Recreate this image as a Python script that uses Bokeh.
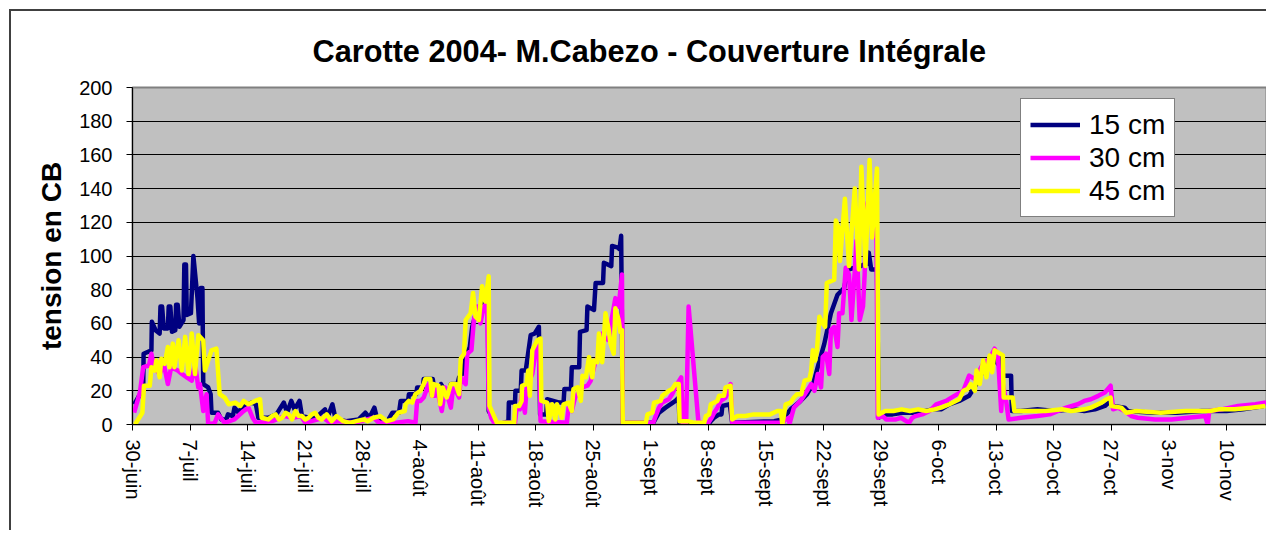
from bokeh.plotting import figure
from bokeh.models import Range1d, FixedTicker, Legend, LegendItem, ColumnDataSource
from bokeh.embed import file_html
from bokeh.resources import INLINE

# ---------------- data (days after 30 June 2004, tension in CB) ----------------
tick_days = [0, 7, 14, 21, 28, 35, 42, 49, 56, 63, 70, 77, 84, 91, 98, 105, 112, 119, 126, 133]
tick_labels = ["30-juin", "7-juil", "14-juil", "21-juil", "28-juil", "4-août", "11-août",
               "18-août", "25-août", "1-sept", "8-sept", "15-sept", "22-sept", "29-sept",
               "6-oct", "13-oct", "20-oct", "27-oct", "3-nov", "10-nov"]
y_ticks = [0, 20, 40, 60, 80, 100, 120, 140, 160, 180, 200]

series_names = ["15 cm", "30 cm", "45 cm"]

s15 = [(0.2,12),(0.8,17),(1.3,20),(1.35,42),(2.3,44),(2.35,61),(2.8,56),(3.3,54),(3.4,70),(3.6,70),
       (3.8,57),(4.3,57),(4.4,70),(4.6,70),(4.8,55),(5.2,56),(5.3,71),(5.5,71),(5.7,58),(6.2,62),
       (6.3,95),(6.5,95),(6.6,65),(7.1,66),(7.4,100),(7.9,75),(8.1,60),(8.3,81),(8.5,81),(8.6,24),
       (9.2,22),(9.5,18),(9.6,7),(10.4,7),(10.8,3),(11.4,3),(11.6,6),(12.2,5),(12.4,10),(12.9,7),
       (13.4,11),(14.0,12),(14.5,13),(15.0,12),(15.3,4),(16.5,4),(17.5,6),(18.0,10),(18.4,13),(18.8,7),
       (19.3,14),(19.7,9),(20.3,14),(20.6,5),(21.5,4),(22.5,5),(23.4,9),(23.7,4),(24.3,12),(24.7,3),
       (26.0,2),(27.5,3),(28.3,7),(28.8,4),(29.4,10),(29.8,2),(31.0,2),(31.6,7),(32.4,7),(32.6,14),
       (33.5,14),(33.6,18),(34.5,18),(34.6,22),(35.3,22),(35.4,27),(36.5,27),(36.7,20),(37.3,18),(37.5,24),
       (38.0,20),(38.5,20),(38.7,24),(39.5,24),(39.7,28),(40.1,30),(40.5,40),(41.0,46),(41.3,58),(41.7,65),
       (42.2,68),(42.4,72),(42.8,70),(43.2,72),(43.3,8),(44.3,0),(45.2,1),(45.7,2),(45.75,13),(46.5,13),
       (46.55,20),(47.2,20),(47.3,32),(47.8,32),(48.4,53),(48.9,54),(49.4,58),(49.55,6),(50.3,6),(50.4,15),
       (51.9,13),(52.4,13),(52.5,21),(53.3,21),(53.4,34),(54.3,34),(54.4,55),(55.2,56),(55.3,70),(56.1,68),
       (56.3,84),(57.2,84),(57.3,96),(58.2,94),(58.3,106),(59.0,105),(59.2,104),(59.4,112),(59.6,1),(63.3,1),
       (64.0,7),(64.8,10),(66.0,14),(66.4,16),(66.5,0),(70.0,0),(70.3,2),(70.7,4),(71.3,6),(71.6,6),
       (71.7,11),(72.6,12),(72.9,1),(78.0,2),(79.0,3),(79.5,6),(80.0,9),(81.0,13),(82.0,18),(82.8,25),
       (83.3,34),(84.1,48),(84.9,66),(85.7,77),(86.5,81),(87.0,92),(88.5,94),(89.4,96),(89.5,102),(89.8,92),
       (90.5,92),(90.7,4),(91.2,6),(92.4,6),(93.6,7),(95.2,7),(97.3,9),(98.3,9),(99.3,12),(100.5,14),
       (101.7,17),(102.6,24),(103.4,32),(104.6,40),(105.2,36),(105.6,40),(105.7,29),(106.8,29),(106.9,8),(108.0,8),
       (110.0,9),(112.0,8),(114.3,9),(115.7,8),(117.0,9),(118.2,11),(118.9,14),(119.2,11),(120.6,10),(121.0,8),
       (124.0,7),(127.0,7),(130.0,8),(131.2,8),(133.0,8),(135.0,9),(137.5,11)]

s30 = [(0.2,7),(0.9,19),(1.3,34),(2.0,35),(2.3,42),(2.6,34),(3.3,30),(3.8,36),(4.3,24),(4.7,34),
       (5.5,32),(6.0,30),(6.6,28),(7.2,26),(7.6,36),(8.0,22),(8.2,24),(8.6,8),(9.0,18),(9.2,0),
       (10.0,1),(10.4,6),(11.2,1),(12.4,3),(13.5,8),(14.1,10),(14.6,4),(15.0,1),(17.0,2),(18.5,5),
       (19.5,4),(20.5,5),(21.0,1),(23.2,4),(24.0,1),(25.0,2),(27.0,1),(29.3,4),(30.0,1),(32.0,1),
       (33.5,2),(34.4,1),(34.6,14),(35.0,14),(35.4,16),(36.0,24),(36.4,17),(36.8,17),(37.0,22),(37.6,8),
       (38.0,22),(38.7,10),(39.0,23),(39.7,16),(39.9,28),(40.5,24),(40.7,42),(41.2,44),(41.5,62),(41.9,70),
       (42.3,60),(42.7,70),(43.1,72),(43.3,10),(43.6,4),(44.1,0),(45.3,1),(46.5,1),(46.7,10),(47.1,9),
       (47.3,18),(47.7,7),(47.9,22),(48.6,30),(49.0,43),(49.4,47),(49.6,2),(52.8,1),(53.0,10),(53.4,8),
       (53.8,16),(54.7,22),(55.3,23),(55.7,26),(56.3,38),(56.9,42),(57.1,54),(57.5,51),(57.9,50),(58.3,64),
       (58.7,75),(59.1,70),(59.5,89),(59.6,1),(63.3,1),(63.6,5),(64.0,10),(64.4,13),(65.2,15),(65.6,18),
       (66.2,24),(66.7,28),(66.9,0),(67.3,1),(67.6,70),(68.8,1),(70.0,1),(70.4,4),(70.7,7),(71.1,10),
       (71.5,14),(72.1,16),(72.7,24),(72.9,1),(79.0,1),(79.4,3),(79.8,4),(79.85,0),(80.4,10),(81.2,14),
       (82.0,20),(82.5,24),(82.9,20),(83.3,30),(83.7,22),(83.9,40),(84.3,42),(84.7,30),(84.9,56),(85.3,58),
       (85.7,46),(85.9,66),(86.3,66),(86.7,93),(87.1,89),(87.4,62),(87.8,91),(88.0,109),(88.4,62),(88.8,70),
       (89.0,89),(89.2,129),(89.6,135),(89.8,131),(90.4,133),(90.6,4),(91.2,5),(91.6,3),(92.8,3),(93.4,4),
       (94.4,1),(94.8,4),(95.2,5),(96.0,6),(96.9,8),(97.7,12),(98.9,14),(99.9,17),(101.0,20),(101.7,29),
       (102.4,27),(103.4,36),(104.2,39),(104.8,45),(105.2,41),(105.6,8),(105.8,24),(106.2,14),(106.5,3),(108.0,4),
       (110.0,5),(111.5,6),(113.5,10),(114.9,12),(115.7,14),(116.5,15),(117.4,17),(118.2,19),(118.9,23),(119.2,9),
       (119.8,10),(120.6,8),(121.4,5),(122.2,4),(124.3,3),(126.3,3),(128.3,4),(130.4,5),(130.7,0),(130.9,8),
       (132.4,9),(134.4,11),(136.5,12),(137.8,13)]

s45 = [(0.3,0),(1.2,7),(1.4,23),(2.1,23),(2.3,34),(2.7,32),(2.9,38),(3.3,28),(3.5,39),(3.9,36),
       (4.3,46),(4.5,34),(4.9,48),(5.1,34),(5.6,50),(6.0,32),(6.4,52),(6.8,30),(7.2,54),(7.6,30),
       (8.0,53),(8.6,50),(8.8,32),(9.6,44),(10.2,45),(10.6,18),(11.2,16),(11.7,12),(12.5,13),(13.1,11),
       (13.5,14),(14.1,12),(14.9,14),(15.5,15),(15.7,4),(16.5,3),(17.0,5),(17.4,6),(17.8,3),(18.2,4),
       (18.6,7),(19.0,6),(19.4,3),(19.8,8),(20.2,5),(20.6,5),(21.0,3),(21.4,4),(21.8,6),(22.2,7),
       (22.6,4),(23.0,3),(23.6,6),(24.2,2),(24.8,5),(25.6,2),(26.4,1),(27.2,2),(28.1,3),(28.6,2),
       (29.3,4),(30.1,5),(30.9,2),(31.7,3),(32.3,7),(33.1,8),(33.2,12),(33.6,14),(34.0,13),(34.4,18),
       (35.0,20),(35.4,24),(35.6,27),(36.2,27),(36.4,17),(36.6,24),(37.2,23),(37.4,12),(37.7,22),(38.2,16),
       (38.7,24),(39.3,24),(39.7,18),(39.9,39),(40.3,42),(40.5,62),(41.1,66),(41.4,78),(41.7,64),(42.1,62),
       (42.5,82),(42.9,73),(43.3,88),(43.4,11),(44.3,1),(46.4,1),(46.5,11),(47.0,11),(47.3,14),(47.35,23),
       (47.9,24),(48.1,32),(48.3,17),(48.6,44),(49.2,50),(49.6,51),(49.7,14),(50.4,13),(50.6,2),(51.0,12),
       (51.4,3),(51.6,12),(52.2,4),(52.4,12),(53.0,13),(53.4,8),(53.6,21),(54.1,22),(54.5,14),(54.7,29),
       (55.1,28),(55.5,40),(55.9,28),(56.1,38),(56.5,37),(56.7,54),(57.1,37),(57.5,66),(57.9,56),(58.1,48),
       (58.5,42),(58.7,69),(59.1,62),(59.3,55),(59.5,56),(59.6,1),(62.4,1),(62.6,6),(63.2,7),(63.4,13),
       (64.2,14),(64.4,17),(65.2,20),(65.6,21),(66.0,24),(66.4,24),(66.5,2),(67.5,2),(68.3,1),(69.5,1),
       (69.7,5),(70.1,6),(70.3,12),(71.1,14),(71.3,17),(71.9,17),(72.1,22),(72.7,23),(72.9,3),(73.5,5),
       (74.5,5),(75.5,6),(76.5,6),(77.5,6),(78.4,8),(78.8,8),(79.0,0),(79.4,12),(80.0,13),(80.4,16),
       (80.8,18),(81.3,18),(81.7,26),(82.3,27),(82.5,32),(82.7,44),(83.0,38),(83.2,44),(83.5,64),(83.9,60),
       (84.2,58),(84.4,84),(85.3,86),(85.5,121),(85.8,117),(86.0,97),(86.6,134),(87.1,94),(87.8,140),(88.3,92),
       (88.6,153),(89.1,94),(89.6,157),(89.9,111),(90.5,152),(90.7,6),(91.5,8),(92.5,8),(93.5,9),(94.5,8),
       (95.5,9),(96.5,8),(97.5,9),(98.3,10),(99.3,12),(100.5,15),(101.0,20),(101.5,21),(101.9,24),(102.4,20),
       (102.6,32),(103.0,24),(103.4,38),(103.8,28),(104.2,41),(104.5,31),(104.8,44),(105.8,41),(105.9,16),(107.0,16),
       (107.2,8),(109.0,8),(111.0,8),(113.0,9),(114.1,8),(115.7,9),(116.5,10),(117.8,13),(118.4,15),(118.9,16),
       (119.0,11),(120.2,10),(120.8,7),(122.0,8),(125.0,7),(128.0,8),(131.0,8),(132.0,9),(134.0,9),(136.0,10),
       (137.7,11)]

colors = ["#000080", "#FF00FF", "#FFFF00"]

# ---------------- figure ----------------
FONT = "Liberation Sans"

p = figure(width=1257, height=521, output_backend="svg", toolbar_location=None,
           x_range=Range1d(0, 137.85), y_range=Range1d(0, 200),
           min_border_left=121, min_border_right=2, min_border_top=76, min_border_bottom=108,
           background_fill_color="#C0C0C0", border_fill_color="white",
           outline_line_color="#808080", outline_line_width=2)
p.margin = (9, 0, 0, 9)
p.styles = {"border-top": "2px solid #404040", "border-left": "2px solid #404040"}

p.title.text = "Carotte 2004- M.Cabezo - Couverture Intégrale"
p.title.text_font = FONT
p.title.text_font_size = "30.7px"
p.title.text_font_style = "bold"
p.title.text_color = "black"
p.title.align = "left"
p.title.offset = 180
p.title.standoff = 38

# grid
p.xgrid.grid_line_color = None
p.ygrid.grid_line_color = "black"
p.ygrid.grid_line_width = 1
p.ygrid.ticker = FixedTicker(ticks=y_ticks)

# axes
p.xaxis.ticker = FixedTicker(ticks=tick_days)
p.xaxis.major_label_overrides = {d: lab for d, lab in zip(tick_days, tick_labels)}
p.xaxis.major_label_orientation = "vertical"
p.yaxis.ticker = FixedTicker(ticks=y_ticks)
for ax in (p.xaxis[0], p.yaxis[0]):
    ax.axis_line_color = "black"
    ax.axis_line_width = 1
    ax.major_tick_line_color = "black"
    ax.major_tick_out = 6
    ax.major_tick_in = 0
    ax.minor_tick_line_color = None
    ax.major_label_text_font = FONT
    ax.major_label_text_font_size = "20px"
    ax.major_label_text_color = "black"
p.xaxis.major_label_standoff = 9
p.yaxis.major_label_standoff = 14
p.yaxis.axis_label = "tension en CB"
p.yaxis.axis_label_text_font = FONT
p.yaxis.axis_label_text_font_size = "28px"
p.yaxis.axis_label_text_font_style = "bold"
p.yaxis.axis_label_text_color = "black"
p.yaxis.axis_label_standoff = 9

# lines
renderers = []
for s, c in zip([s15, s30, s45], colors):
    src = ColumnDataSource(dict(x=[d for d, _ in s], y=[v for _, v in s]))
    r = p.line("x", "y", source=src, line_color=c, line_width=4.5, line_join="round")
    renderers.append(r)

legend = Legend(items=[LegendItem(label=n, renderers=[r]) for n, r in zip(series_names, renderers)],
                location=(888, 207))
legend.label_text_font = FONT
legend.label_text_font_size = "28px"
legend.label_text_color = "black"
legend.border_line_color = "black"
legend.border_line_width = 1
legend.background_fill_color = "white"
legend.background_fill_alpha = 1
legend.padding = 9
legend.spacing = 0
legend.label_height = 33
legend.glyph_height = 33
legend.glyph_width = 50
legend.label_standoff = 9
legend.margin = 0
p.add_layout(legend)

open("out.html", "w").write(file_html(p, INLINE))
